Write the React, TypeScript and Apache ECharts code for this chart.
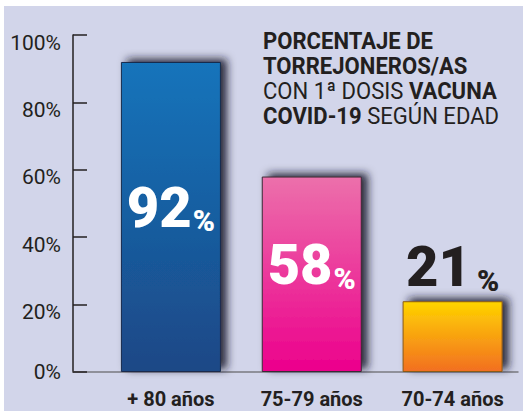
import React, { useEffect, useRef } from "react";
import * as echarts from "echarts";

const categories = ["+ 80 años", "75-79 años", "70-74 años"];
const values = [92, 58, 21];
const yTicks = [0, 20, 40, 60, 80, 100];
const titleLines = [
  [{ s: "b", t: "PORCENTAJE DE" }],
  [{ s: "b", t: "TORREJONEROS/AS" }],
  [{ s: "r", t: "CON 1ª DOSIS " }, { s: "b", t: "VACUNA" }],
  [{ s: "b", t: "COVID-19" }, { s: "r", t: " SEGÚN EDAD" }],
];
const barGradients = [
  ["#1274bb", "#1d4886"],
  ["#ec70ab", "#ec008c"],
  ["#ffd400", "#f26f21"],
];
const barBorders = ["#1a2b4c", "#3b2a36", "#8a5a14"];

const INK = "#231f20";
const BG = "#d2d5ea";

export default function App() {
  const ref = useRef<HTMLDivElement>(null);
  useEffect(() => {
    if (!ref.current) return;
    const chart = echarts.init(ref.current, undefined, { renderer: "svg" });
    const titleText = titleLines
      .map((line) => line.map((p) => `{${p.s}|${p.t}}`).join(""))
      .join("\n");

    const seriesData = values.map((v, i) => {
      const outside = i === 2;
      return {
        value: v,
        itemStyle: {
          color: new echarts.graphic.LinearGradient(0, 0, 0, 1, [
            { offset: 0, color: barGradients[i][0] },
            { offset: 1, color: barGradients[i][1] },
          ]),
          borderColor: barBorders[i],
          borderWidth: 1,
          shadowColor: "rgba(25,25,40,0.9)",
          shadowBlur: 9,
          shadowOffsetX: 6,
          shadowOffsetY: -3,
        },
        label: {
          show: true,
          position: outside ? "top" : "inside",
          distance: outside ? 6 : 5,
          offset: outside ? [0, 0] : [0, -9],
          formatter: () => `{n|${v}}{p|%}`,
          rich: {
            n: {
              fontFamily: "Roboto",
              fontWeight: 900,
              fontSize: 56,
              color: outside ? INK : "#ffffff",
              lineHeight: 56,
            },
            p: {
              fontFamily: "Roboto",
              fontWeight: 900,
              fontSize: 30,
              color: outside ? INK : "#ffffff",
              lineHeight: 56,
              padding: outside ? [0, 0, 0, 6] : [0, 0, 0, 1],
              verticalAlign: "bottom",
            },
          },
        },
      };
    });

    chart.setOption({
      animation: false,
      backgroundColor: "transparent",
      grid: [
        { left: 73, top: 35, width: 445, height: 337 },
        { left: 100.5, top: 35, width: 429, height: 337 },
      ],
      xAxis: [
        {
          gridIndex: 0,
          type: "category",
          data: categories,
          axisLine: { show: true, lineStyle: { color: "#7a7a80", width: 1.5 } },
          axisTick: { show: false },
          axisLabel: { show: false },
        },
        {
          gridIndex: 1,
          type: "category",
          data: categories,
          axisLine: { show: false },
          axisTick: { show: false },
          axisLabel: {
            show: true,
            margin: 17,
            color: INK,
            fontFamily: "Roboto",
            fontWeight: "bold",
            fontSize: 20,
          },
        },
      ],
      yAxis: [
        {
          gridIndex: 0,
          type: "value",
          min: yTicks[0],
          max: yTicks[yTicks.length - 1],
          interval: 20,
          splitLine: { show: false },
          axisLine: { show: true, lineStyle: { color: INK, width: 1.5 } },
          axisTick: {
            show: true,
            inside: true,
            length: 14,
            lineStyle: { color: INK, width: 1.5 },
          },
          axisLabel: {
            show: true,
            margin: 12,
            formatter: (v: number) => (v === 0 ? `{z|${v}%}` : `{a|${v}%}`),
            rich: {
              a: {
                fontFamily: "Roboto",
                fontSize: 21,
                color: INK,
                padding: [15, 0, 0, 0],
              },
              z: {
                fontFamily: "Roboto",
                fontSize: 21,
                color: INK,
              },
            },
          },
        },
        {
          gridIndex: 1,
          type: "value",
          min: 0,
          max: 100,
          show: false,
        },
      ],
      series: [
        {
          type: "bar",
          xAxisIndex: 1,
          yAxisIndex: 1,
          barWidth: 100,
          data: seriesData,
        },
      ],
      graphic: [
        {
          type: "text",
          left: 263,
          top: 29,
          scaleX: 0.92,
          style: {
            text: titleText,
            rich: {
              b: {
                fontFamily: "Roboto",
                fontWeight: "bold",
                fontSize: 24,
                lineHeight: 25,
                fill: INK,
              },
              r: {
                fontFamily: "Roboto",
                fontWeight: "normal",
                fontSize: 24,
                lineHeight: 25,
                fill: INK,
              },
            },
          },
        },
      ],
    });
    return () => chart.dispose();
  }, []);

  return (
    <div style={{ position: "absolute", left: 0, top: 0, width: 523, height: 411, background: "#ffffff" }}>
      <div style={{ position: "absolute", left: 4, top: 6, right: 0, bottom: 0, background: BG }} />
      <div ref={ref} style={{ position: "absolute", left: 0, top: 0, width: 523, height: 411 }} />
    </div>
  );
}
